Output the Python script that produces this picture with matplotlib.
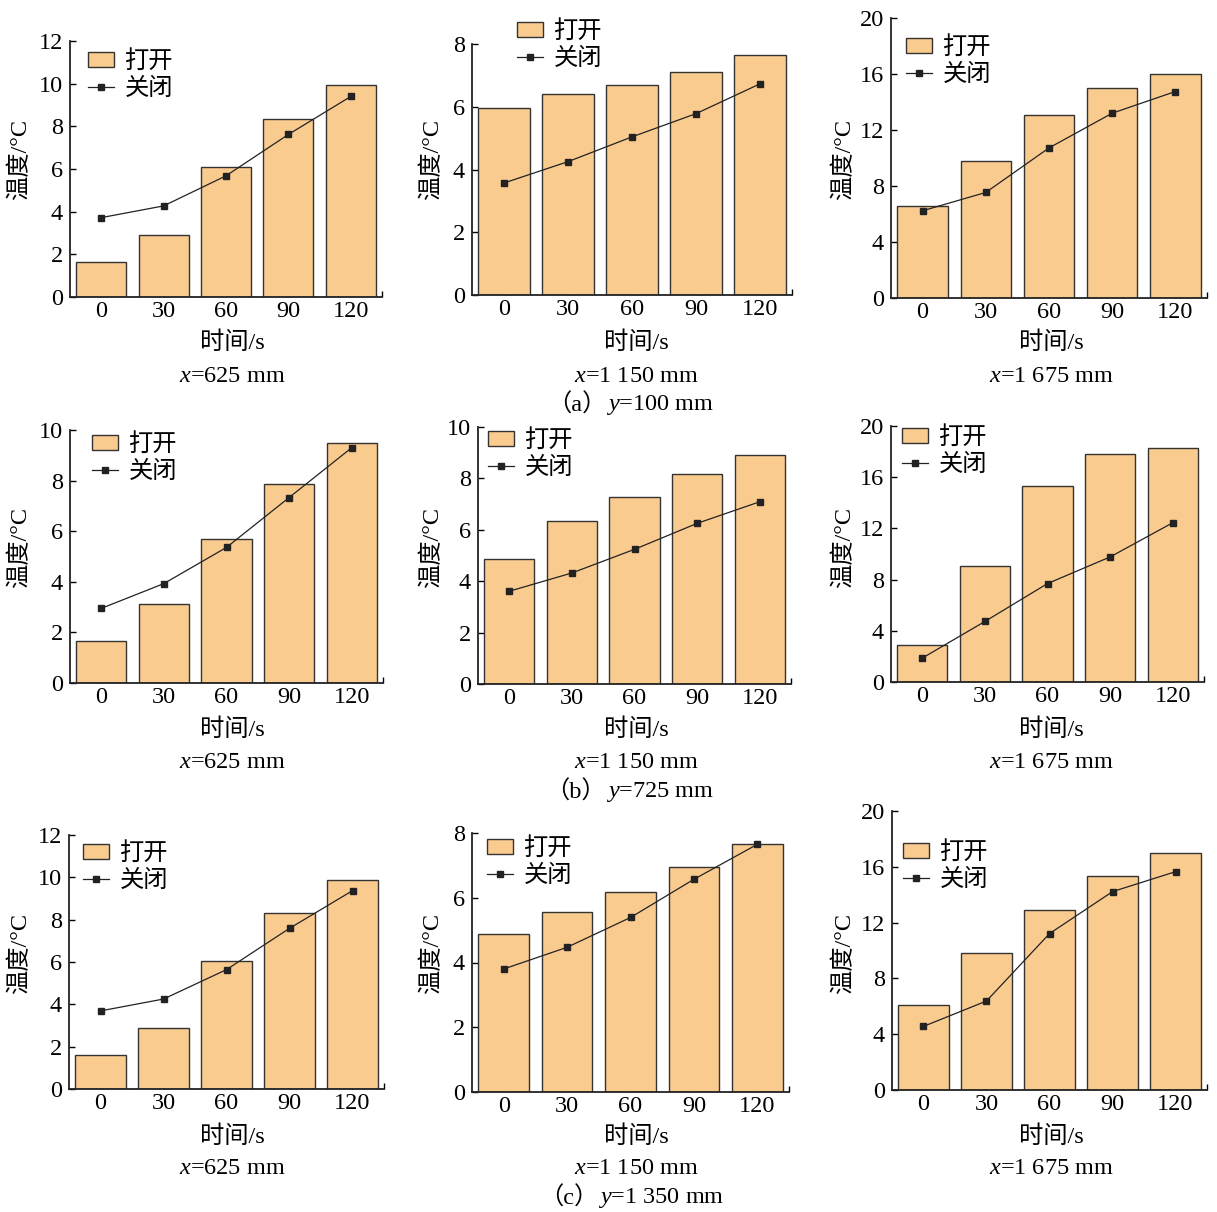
import numpy as np
import matplotlib
matplotlib.use('Agg')
import matplotlib.pyplot as plt

# 图像尺寸（像素）
W, H = 1217, 1212

plt.rcParams['mathtext.fontset'] = 'custom'
plt.rcParams['mathtext.rm'] = 'Liberation Serif'
plt.rcParams['mathtext.it'] = 'Liberation Serif:italic'

SERIF = ['Liberation Serif', 'Noto Sans CJK SC']
FS = 17.5

# 数据
times = ['0', '30', '60', '90', '120']
label_open = '打开'
label_closed = '关闭'

open_a1 = [1.62, 2.92, 6.10, 8.35, 9.92]
closed_a1 = [3.72, 4.27, 5.68, 7.62, 9.40]
open_a2 = [5.96, 6.40, 6.68, 7.12, 7.64]
closed_a2 = [3.57, 4.25, 5.04, 5.78, 6.73]
open_a3 = [6.54, 9.81, 13.05, 15.01, 15.99]
closed_a3 = [6.23, 7.54, 10.72, 13.20, 14.75]

open_b1 = [1.67, 3.14, 5.68, 7.86, 9.50]
closed_b1 = [2.95, 3.93, 5.36, 7.33, 9.30]
open_b2 = [4.88, 6.33, 7.28, 8.17, 8.91]
closed_b2 = [3.61, 4.32, 5.24, 6.25, 7.09]
open_b3 = [2.86, 9.09, 15.32, 17.79, 18.26]
closed_b3 = [1.87, 4.73, 7.69, 9.77, 12.44]

open_c1 = [1.60, 2.89, 6.05, 8.32, 9.87]
closed_c1 = [3.69, 4.25, 5.64, 7.59, 9.37]
open_c2 = [4.87, 5.55, 6.18, 6.95, 7.67]
closed_c2 = [3.80, 4.47, 5.39, 6.57, 7.65]
open_c3 = [6.12, 9.80, 12.93, 15.36, 16.99]
closed_c3 = [4.56, 6.38, 11.21, 14.22, 15.65]

x_labels = [r'$x$=625 mm', r'$x$=1 150 mm', r'$x$=1 675 mm']
row_tags = ['（a）', '（b）', '（c）']
row_y = [r'$y$=100 mm', r'$y$=725 mm', r'$y$=1 350 mm']

# 每个子图：数据、y轴上限/步长、坐标轴像素位置(左,右,上,下)、图例位置(左,首行中心)
panels = [
    (open_a1, closed_a1, 12, 2, (70, 382, 41, 297), (88, 62)),
    (open_a2, closed_a2, 8, 2, (472, 792, 44, 295), (517, 32)),
    (open_a3, closed_a3, 20, 4, (891, 1207, 18, 298), (906, 48)),
    (open_b1, closed_b1, 10, 2, (70, 383, 430, 683), (92, 445)),
    (open_b2, closed_b2, 10, 2, (478, 791, 427, 684), (488, 441)),
    (open_b3, closed_b3, 20, 4, (891, 1204, 426, 682), (902, 438)),
    (open_c1, closed_c1, 12, 2, (69, 384, 835, 1089), (83, 854)),
    (open_c2, closed_c2, 8, 2, (472, 789, 833, 1092), (487, 849)),
    (open_c3, closed_c3, 20, 4, (892, 1207, 811, 1090), (903, 853)),
]

col_center = [232, 636, 1051]
ylab_right = [31, 443, 855]
row_ylab = [160, 547, 953]
row_xlab = [343, 730, 1137]
row_sub = [376, 762, 1168]
row_tag = [(606, 405), (606, 792), (598, 1198)]

fig = plt.figure(figsize=(W / 100, H / 100), dpi=100)

x = np.arange(len(times))
for i, (yo, yc, ymax, step, (l, r, t, b), (lx, ly)) in enumerate(panels):
    row, col = divmod(i, 3)
    ax = fig.add_axes([l / W, 1 - b / H, (r - l) / W, (b - t) / H])
    bars = ax.bar(x, yo, width=0.8, color='#FACB8F', edgecolor='#333333',
                  linewidth=1.0, label=label_open, zorder=2)
    line, = ax.plot(x, yc, color='#222222', linewidth=0.9, marker='s',
                    markersize=4.5, label=label_closed, zorder=3)
    ax.set_xlim(-0.5, 4.5)
    ax.set_ylim(0, ymax)
    ax.set_xticks(x)
    ax.set_xticklabels(times)
    ax.set_xticks([4.5], minor=True)
    ax.set_yticks(np.arange(0, ymax + 0.1, step))
    for s in ['top', 'right']:
        ax.spines[s].set_visible(False)
    for s in ['left', 'bottom']:
        ax.spines[s].set_linewidth(1.3)
        ax.spines[s].set_color('#222222')
    ax.tick_params(axis='y', direction='in', length=4, width=1, pad=5,
                   labelsize=FS)
    ax.tick_params(axis='x', which='both', direction='in', length=4, width=1,
                   pad=3, labelsize=FS)
    for lab in ax.get_xticklabels() + ax.get_yticklabels():
        lab.set_family('Liberation Serif')

    ax.set_ylabel('温度/°C', fontsize=FS, family=SERIF)
    ax.yaxis.set_label_coords(ylab_right[col] / W, 1 - row_ylab[row] / H,
                              transform=fig.transFigure)

    ax.legend([bars, line], [label_open, label_closed], loc='upper left',
              bbox_to_anchor=(lx / W, 1 - (ly - 14) / H),
              bbox_transform=fig.transFigure, frameon=False,
              borderpad=0, borderaxespad=0, labelspacing=0.05,
              handlelength=1.05, handleheight=0.55, handletextpad=0.45,
              prop={'family': ['Noto Sans CJK SC'], 'size': FS})

    fig.text(col_center[col] / W, 1 - row_xlab[row] / H, '时间/s',
             ha='center', va='center', fontsize=FS, family=SERIF)
    fig.text(col_center[col] / W, 1 - row_sub[row] / H, x_labels[col],
             ha='center', va='center', fontsize=FS, family='Liberation Serif')

for row in range(3):
    tx, ty = row_tag[row]
    fig.text(tx / W, 1 - ty / H, row_tags[row], ha='right', va='center',
             fontsize=FS, family=SERIF)
    fig.text(tx / W, 1 - ty / H, row_y[row], ha='left', va='center',
             fontsize=FS, family='Liberation Serif')

fig.savefig('out.png', dpi=100)
